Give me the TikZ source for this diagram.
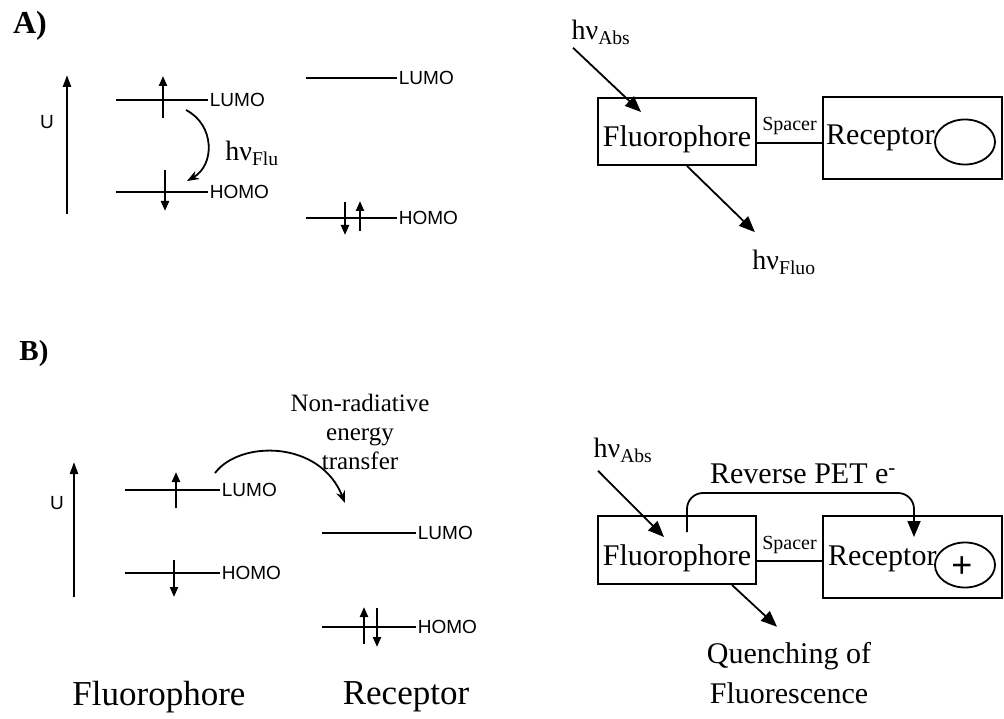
\documentclass[tikz,border=0pt]{standalone}
\usepackage{fontspec}
\setmainfont{Liberation Serif}
\setsansfont{Liberation Sans}
\usepackage{tikz}
\usetikzlibrary{arrows.meta,positioning,shapes.geometric,calc}
\newcommand{\atsize}[2]{\fontsize{#1}{#2}\selectfont}
\newcommand{\hnu}[1]{hν\textsubscript{#1}}
\tikzset{
  orbital/.style={line width=1.8pt},
  spin/.style={-{Triangle[length=10pt,width=8pt]}, line width=2.2pt},
  uaxis/.style={-{Triangle[length=12pt,width=8pt]}, line width=2.4pt},
  orblabel/.style={font=\sffamily\atsize{19}{19}, anchor=west, inner sep=1pt},
  ulabel/.style={font=\sffamily\atsize{19}{19}},
  unit/.style={draw, line width=2pt, font=\atsize{30}{30}, text height=30pt,
    text depth=0pt, inner sep=0pt},
  recname/.style={font=\atsize{30}{30}, inner sep=0pt, anchor=base west},
  site/.style={draw, ellipse, line width=1.8pt, minimum width=60, minimum height=45,
    inner sep=0pt},
  linker/.style={line width=1.8pt},
  photon/.style={-{Triangle[length=16pt,width=13pt]}, line width=1.8pt},
  transfer/.style={-{Stealth[length=12pt,width=9pt]}, line width=1.8pt},
  hnulabel/.style={font=\atsize{28}{28}},
  spacerlabel/.style={font=\atsize{20}{20}},
  caption/.style={font=\atsize{30}{40}, align=center},
  bigcaption/.style={font=\atsize{35}{35}},
  paneltag/.style={font=\bfseries\atsize{32}{32}}
}

\begin{document}
\begin{tikzpicture}[x=1pt, y=-1pt]
  \useasboundingbox (0,0) rectangle (1004,719);

  % A) free fluorophore
  \node[paneltag] (tagA) at (30,26) {A)};
  \draw[uaxis] (67,214) -- (67,75);
  \node[ulabel] (uA) at (47,122) {U};
  \draw[orbital] (116,100) -- (208,100) node[orblabel] (aFluLumo) {LUMO};
  \draw[orbital] (116,192) -- (208,192) node[orblabel] (aFluHomo) {HOMO};
  \draw[orbital] (306,78) -- (397,78) node[orblabel] (aRecLumo) {LUMO};
  \draw[orbital] (306,218) -- (397,218) node[orblabel] (aRecHomo) {HOMO};
  \draw[spin] (163,118) -- (163,76);
  \draw[spin] (165,170) -- (165,211);
  \draw[spin] (345,202) -- (345,235);
  \draw[spin] (360,231) -- (360,201);
  \draw[transfer] (186,110) .. controls (215,125) and (215,165) .. (187,181);
  \node[hnulabel] (hnuFlu) at (252,153) {\hnu{Flu}};

  \node[hnulabel] (absA) at (601,32) {\hnu{Abs}};
  \node[unit, minimum width=158, minimum height=67] (fluoA) at (677,131.5) {Fluorophore};
  \node[draw, line width=2pt, minimum width=179, minimum height=82] (recA) at (912.5,138) {};
  \node[recname] (recAtext) at ([xshift=4pt,yshift=-7pt]recA.west) {Receptor};
  \node[site] (siteA) at (965,142) {};
  \draw[linker] ([yshift=-11.5pt]fluoA.east) -- ([yshift=-11.5pt]fluoA.east -| recA.west)
    node[spacerlabel, midway, above, yshift=4pt] (spacerA) {Spacer};
  \node[hnulabel] (fluoLblA) at (784,262) {\hnu{Fluo}};
  \draw[photon] ([xshift=5pt]absA.south west) -- ([xshift=44pt,yshift=-15pt]fluoA.north west);
  \draw[photon] ([xshift=90pt]fluoA.south west) -- ([xshift=6pt,yshift=14pt]fluoLblA.north west);

  % B) bound cation
  \node[paneltag, font=\bfseries\atsize{29}{29}] (tagB) at (34,354) {B)};
  \draw[uaxis] (74,597) -- (74,462);
  \node[ulabel] (uB) at (57,503) {U};
  \draw[orbital] (125,490) -- (220,490) node[orblabel] (bFluLumo) {LUMO};
  \draw[orbital] (125,573) -- (220,573) node[orblabel] (bFluHomo) {HOMO};
  \draw[orbital] (322,533) -- (416,533) node[orblabel] (bRecLumo) {LUMO};
  \draw[orbital] (322,627) -- (416,627) node[orblabel] (bRecHomo) {HOMO};
  \draw[spin] (176,508) -- (176,472);
  \draw[spin] (174,560) -- (174,597);
  \draw[spin] (364,644) -- (364,607);
  \draw[spin] (377,608) -- (377,647);
  \draw[transfer] (215,473) .. controls (240,440) and (320,440) .. (345,503);
  \node[caption, font=\atsize{25}{29}] (nonrad) at (360,432) {Non-radiative\\energy\\transfer};
  \node[bigcaption] (capFluo) at (159,697) {Fluorophore};
  \node[bigcaption] (capRec) at (406,697) {Receptor};

  \node[hnulabel] (absB) at (623,450) {\hnu{Abs}};
  \node[unit, minimum width=158, minimum height=68] (fluoB) at (677,550) {Fluorophore};
  \node[draw, line width=2pt, minimum width=179, minimum height=82] (recB) at (912.5,557) {};
  \node[recname] (recBtext) at ([xshift=6pt,yshift=-8pt]recB.west) {Receptor};
  \node[site] (siteB) at (965,565) {};
  \node[font=\sffamily\atsize{36}{36}, inner sep=0pt] (plus) at (962,567) {+};
  \draw[linker] ([yshift=-11pt]fluoB.east) -- ([yshift=-11pt]fluoB.east -| recB.west)
    node[spacerlabel, midway, above, yshift=3pt] (spacerB) {Spacer};
  \coordinate (petTop) at (803,493);
  \draw[photon, rounded corners=16pt] ([xshift=90pt,yshift=-17pt]fluoB.north west)
    |- (petTop) -| ([xshift=92pt,yshift=-22pt]recB.north west);
  \node[font=\atsize{30}{30}, above, yshift=6pt] (petLbl) at (petTop) {Reverse PET e\textsuperscript{-}};
  \node[caption] (quench) at (789,673) {Quenching of\\Fluorescence};
  \draw[photon] ([xshift=8pt,yshift=-5pt]absB.south west) -- ([xshift=67pt,yshift=-22pt]fluoB.north west);
  \draw[photon] ([xshift=135pt]fluoB.south west) -- ([xshift=-12pt,yshift=12pt]quench.north);
\end{tikzpicture}
\end{document}
